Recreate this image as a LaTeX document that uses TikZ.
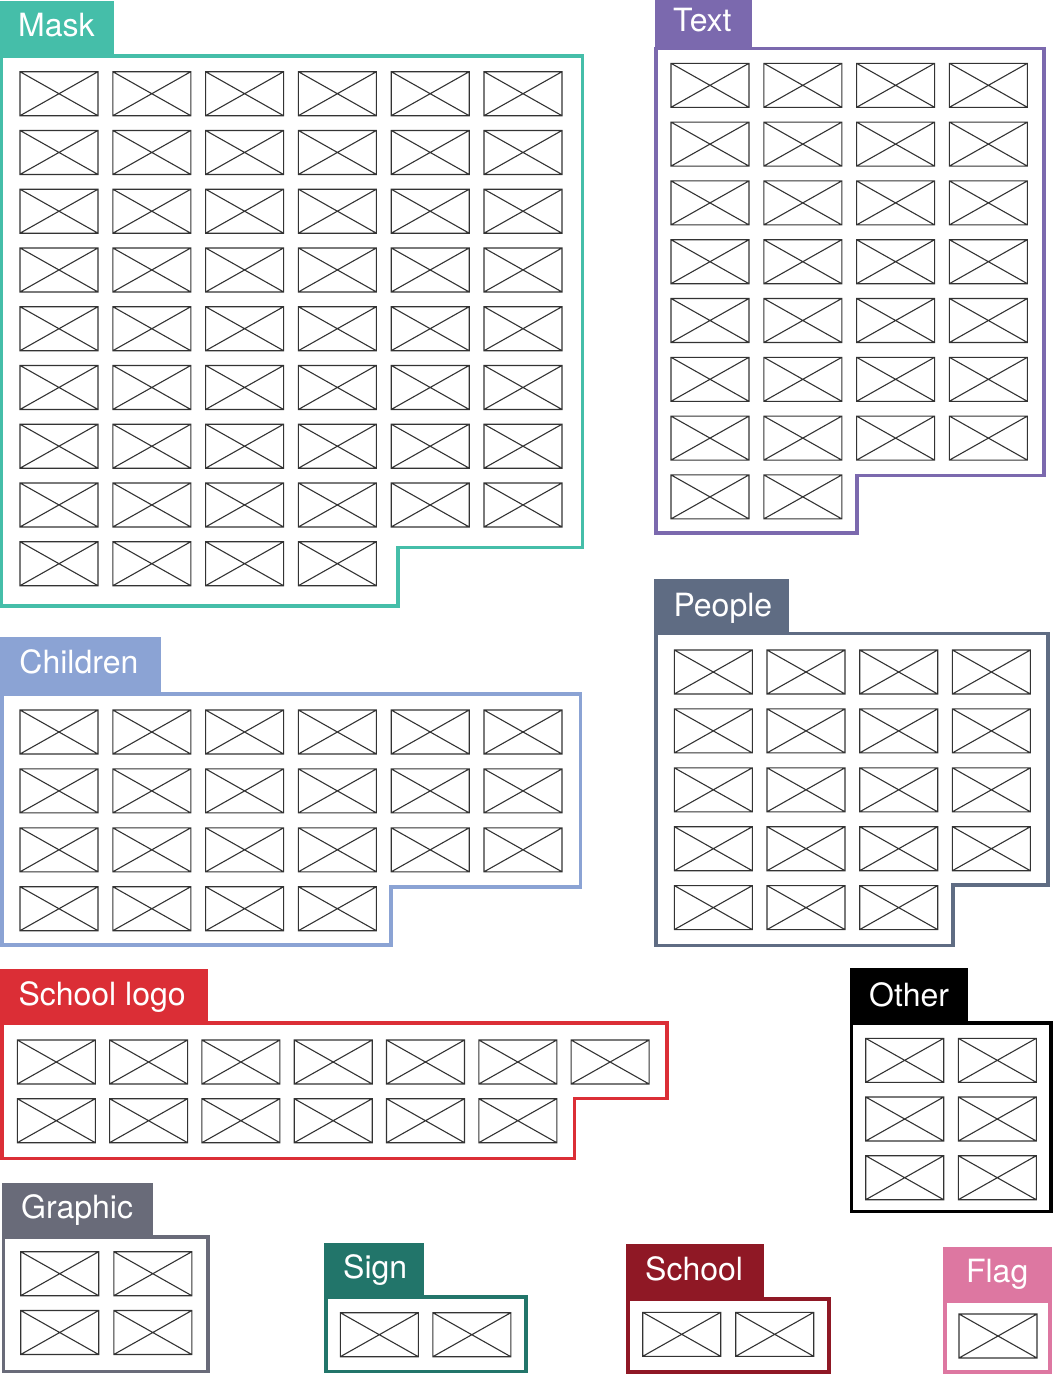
\documentclass[tikz,border=0pt]{standalone}
\usepackage{fontspec}
\setmainfont{TeX Gyre Heros}
\newcommand\tablabelfont{\fontsize{32}{38}\selectfont}
\definecolor{maskc}{HTML}{45BEA9}
\definecolor{textc}{HTML}{7B69AE}
\definecolor{peoplec}{HTML}{5F6C83}
\definecolor{childc}{HTML}{8BA3D4}
\definecolor{logoc}{HTML}{DB2E36}
\definecolor{otherc}{HTML}{000000}
\definecolor{graphc}{HTML}{696B79}
\definecolor{signc}{HTML}{22756A}
\definecolor{schoolc}{HTML}{8F1825}
\definecolor{flagc}{HTML}{DD77A1}
\definecolor{thumbc}{HTML}{333333}
\tikzset{
  thumbline/.style={draw=thumbc, line width=1.1pt},
  thumb/.pic={\draw[thumbline] (0,0) rectangle (78,44) (0,0) -- (78,44) (0,44) -- (78,0);},
  frame/.style={line width=3.6pt, line join=miter},
  tablabel/.style={anchor=base west, inner sep=0pt, text=white, font=\tablabelfont},
}
\begin{document}
\begin{tikzpicture}[x=1pt,y=-1pt]
\useasboundingbox (0,0) rectangle (1055,1374);

% ---------- Mask ----------
\fill[maskc] (0,1) rectangle (114,56);
\draw[frame,maskc] (1.5,56) -- (582.5,56) -- (582.5,547.5) -- (398,547.5) -- (398,606) -- (1.5,606) -- cycle;
\node[tablabel] (masklabel) at (18,36) {Mask};
\foreach \r in {0,...,7}
  \foreach \c in {0,...,5}
    \pic at ({20+92.8*\c},{71.7+58.75*\r}) {thumb};
\foreach \c in {0,...,3}
  \pic at ({20+92.8*\c},{71.7+58.75*8}) {thumb};

% ---------- Text ----------
\fill[textc] (655,0) rectangle (752,48.5);
\draw[frame,textc] (656,48.5) -- (1043.7,48.5) -- (1043.7,475.3) -- (857,475.3) -- (857,533) -- (656,533) -- cycle;
\node[tablabel] (textlabel) at (673,31) {Text};
\foreach \r in {0,...,6}
  \foreach \c in {0,...,3}
    \pic at ({671+92.8*\c},{63.3+58.8*\r}) {thumb};
\foreach \c in {0,1}
  \pic at ({671+92.8*\c},{63.3+58.8*7}) {thumb};

% ---------- People ----------
\fill[peoplec] (654.3,579.3) rectangle (789.3,633.3);
\draw[frame,peoplec] (656,633.3) -- (1047.8,633.3) -- (1047.8,884.7) -- (952.7,884.7) -- (952.7,945.3) -- (656,945.3) -- cycle;
\node[tablabel] (peoplelabel) at (673.3,616) {People};
\foreach \r in {0,...,3}
  \foreach \c in {0,...,3}
    \pic at ({674.3+92.7*\c},{650+58.9*\r}) {thumb};
\foreach \c in {0,...,2}
  \pic at ({674.3+92.7*\c},{650+58.9*4}) {thumb};

% ---------- Children ----------
\fill[childc] (0,637) rectangle (161,693.7);
\draw[frame,childc] (2,693.7) -- (580.3,693.7) -- (580.3,886.8) -- (391.2,886.8) -- (391.2,945.2) -- (2,945.2) -- cycle;
\node[tablabel] (childlabel) at (19.3,673.5) {Children};
\foreach \r in {0,...,2}
  \foreach \c in {0,...,5}
    \pic at ({20+92.8*\c},{710+58.9*\r}) {thumb};
\foreach \c in {0,...,3}
  \pic at ({20+92.8*\c},{710+58.9*3}) {thumb};

% ---------- School logo ----------
\fill[logoc] (0,969.3) rectangle (207.7,1023);
\draw[frame,logoc] (2,1023) -- (666.7,1023) -- (666.7,1098.3) -- (574.3,1098.3) -- (574.3,1158.3) -- (2,1158.3) -- cycle;
\node[tablabel] (logolabel) at (18.3,1005) {School logo};
\foreach \c in {0,...,6}
  \pic at ({17.3+92.3*\c},1040) {thumb};
\foreach \c in {0,...,5}
  \pic at ({17.3+92.3*\c},1098.7) {thumb};

% ---------- Other ----------
\fill[otherc] (850,968.3) rectangle (968.3,1022.7);
\draw[frame,otherc] (851.3,1022.7) rectangle (1050.7,1211.3);
\node[tablabel] (otherlabel) at (869,1006) {Other};
\foreach \r in {0,...,2}
  \foreach \c in {0,1}
    \pic at ({865.7+92.6*\c},{1038.3+58.7*\r}) {thumb};

% ---------- Graphic ----------
\fill[graphc] (1.7,1182.7) rectangle (153.4,1237);
\draw[frame,graphc] (3.4,1237) rectangle (208,1371.3);
\node[tablabel] (graphlabel) at (21,1218.5) {Graphic};
\foreach \r in {0,1}
  \foreach \c in {0,1}
    \pic at ({20.7+93.1*\c},{1251.7+58.8*\r}) {thumb};

% ---------- Sign ----------
\fill[signc] (324,1242.7) rectangle (424,1297);
\draw[frame,signc] (326,1297) rectangle (526,1371.3);
\node[tablabel] (signlabel) at (343,1278.5) {Sign};
\foreach \c in {0,1}
  \pic at ({340.3+92.5*\c},1312.7) {thumb};

% ---------- School ----------
\fill[schoolc] (626,1244) rectangle (764,1298.7);
\draw[frame,schoolc] (628,1298.7) rectangle (828.7,1372);
\node[tablabel] (schoollabel) at (645,1280) {School};
\foreach \c in {0,1}
  \pic at ({642.7+93*\c},1312.3) {thumb};

% ---------- Flag ----------
\fill[flagc] (942.7,1247.3) rectangle (1051.7,1301);
\draw[frame,flagc] (944.7,1301) rectangle (1049.7,1372);
\node[tablabel,anchor=base] (flaglabel) at (997.2,1282.5) {Flag};
\pic at (959,1314) {thumb};
\end{tikzpicture}
\end{document}
